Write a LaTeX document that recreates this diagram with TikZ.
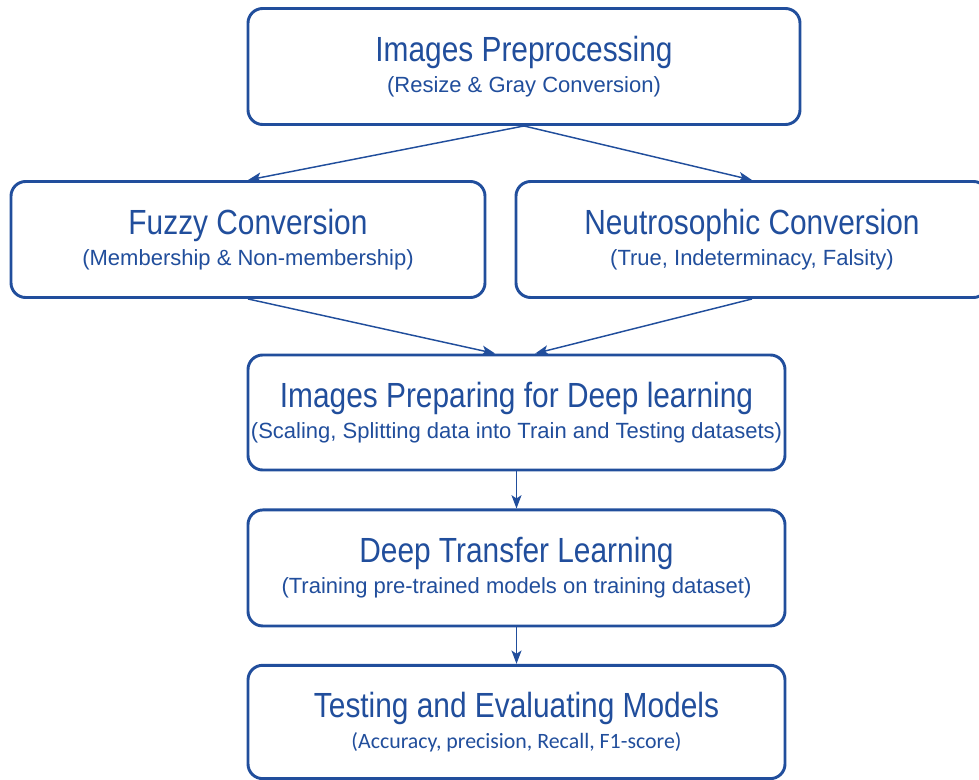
\documentclass[tikz,border=0pt]{standalone}
\usepackage{fontspec}
\setmainfont{Liberation Sans}
\newfontfamily\ttlfont{Liberation Sans}[FakeStretch=0.855]
\newfontfamily\subfont{Liberation Sans}
\newfontfamily\calfont{Carlito}
\usetikzlibrary{positioning,arrows.meta}
\definecolor{flowblue}{RGB}{33,78,156}

\begin{document}
\begin{tikzpicture}[x=0.75pt,y=-0.75pt,on grid,
	stage/.style={draw=flowblue,line width=2.2pt,rounded corners=11pt,fill=white,
		text=flowblue,align=center,minimum height=87pt,inner sep=0pt},
	flow/.style={draw=flowblue,line width=1.1pt,-{Stealth[length=10pt,width=7.5pt,inset=2.5pt]}}]
	\useasboundingbox (0,0) rectangle (979,780);
	\node[stage,minimum width=414pt] (pre) at (524,66.5)
		{{\ttlfont\fontsize{26.2}{30}\selectfont Images Preprocessing}\\[5pt]
		{\subfont\fontsize{16.5}{20}\selectfont (Resize \& Gray Conversion)}};
	\node[stage,minimum width=355.5pt] (fuz) at (248,239.5)
		{{\ttlfont\fontsize{26.2}{30}\selectfont Fuzzy Conversion}\\[5pt]
		{\subfont\fontsize{16.5}{20}\selectfont (Membership \& Non-membership)}};
	\node[stage,minimum width=354pt] (neu) at (752,239.5)
		{{\ttlfont\fontsize{26.2}{30}\selectfont Neutrosophic Conversion}\\[5pt]
		{\subfont\fontsize{16.5}{20}\selectfont (True, Indeterminacy, Falsity)}};
	\node[stage,minimum width=402.75pt,minimum height=86.25pt] (prep) at (516.5,412.5)
		{{\ttlfont\fontsize{26.2}{30}\selectfont Images Preparing for Deep learning}\\[5pt]
		{\subfont\fontsize{16.5}{20}\selectfont (Scaling, Splitting data into Train and Testing datasets)}};
	\node[stage,minimum width=402.75pt,below=116.6pt of prep] (dtl)
		{{\ttlfont\fontsize{26.2}{30}\selectfont Deep Transfer Learning}\\[5pt]
		{\subfont\fontsize{16.5}{20}\selectfont (Training pre-trained models on training dataset)}};
	\node[stage,minimum width=402.75pt,minimum height=85pt,below=115.5pt of dtl] (test)
		{{\ttlfont\fontsize{26.2}{30}\selectfont Testing and Evaluating Models}\\[5pt]
		{\calfont\fontsize{16.4}{20}\selectfont (Accuracy, precision, Recall, F1-score)}};
	\draw[flow] (pre.south) -- (fuz.north);
	\draw[flow] (pre.south) -- (neu.north);
	\draw[flow] (fuz.south) -- ([xshift=-16pt]prep.north);
	\draw[flow] (neu.south) -- ([xshift=14pt]prep.north);
	\draw[flow] (prep) -- (dtl);
	\draw[flow] (dtl) -- (test);
\end{tikzpicture}
\end{document}
